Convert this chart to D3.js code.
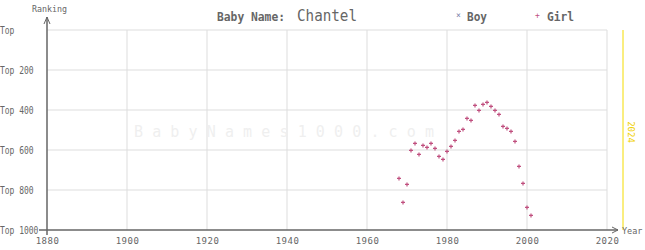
<!DOCTYPE html>
<html>
<head>
<meta charset="utf-8">
<script src="https://cdn.jsdelivr.net/npm/d3@7"></script>
<style>
  body { margin: 0; background: #fff; }
  text { font-family: "DejaVu Sans Mono", monospace; }
</style>
</head>
<body>
<div id="chart"></div>
<script>
const years = [1968,1969,1970,1971,1972,1973,1974,1975,1976,1977,1978,1979,1980,1981,1982,1983,1984,
  1985,1986,1987,1988,1989,1990,1991,1992,1993,1994,1995,1996,1997,1998,1999,2000,2001];
const girlRanks = [742,862,772,602,567,622,577,587,567,592,632,647,607,582,552,507,497,
  442,452,377,402,372,362,382,402,422,482,492,507,557,682,767,887,927];
const yearTicks = [1880,1900,1920,1940,1960,1980,2000,2020];
const rankTicks = [0,200,400,600,800,1000];
const rankLabels = ["Top","Top 200","Top 400","Top 600","Top 800","Top 1000"];

const width = 645, height = 250;
const grey = "#666";

let svg = d3.select("#chart").append("svg")
    .attr("width", width)
    .attr("height", height);

let x = d3.scaleLinear().domain([1880, 2020]).range([47, 607]);
let y = d3.scaleLinear().domain([0, 1000]).range([30, 230]);

// grid
svg.append("g").selectAll("line").data(yearTicks.slice(1)).join("line")
    .attr("x1", d => x(d)).attr("x2", d => x(d))
    .attr("y1", y(0)).attr("y2", y(1000))
    .attr("stroke", "#ddd");
svg.append("g").selectAll("line").data(rankTicks.slice(0, -1)).join("line")
    .attr("x1", x(1880)).attr("x2", x(2020))
    .attr("y1", d => y(d)).attr("y2", d => y(d))
    .attr("stroke", "#ddd");

// watermark
svg.append("text")
    .attr("x", 134).attr("y", 137)
    .attr("textLength", 300)
    .attr("lengthAdjust", "spacing")
    .style("font-size", "15px")
    .attr("fill", "#efefef")
    .text("BabyNames1000.com");

// 2024 marker
svg.append("line")
    .attr("x1", x(2024)).attr("x2", x(2024))
    .attr("y1", y(0)).attr("y2", y(1000))
    .attr("stroke", "#f5dc00");
svg.append("text")
    .attr("transform", `translate(${x(2024) + 5},${y(510)}) rotate(90)`)
    .attr("text-anchor", "middle")
    .style("font-size", "9px")
    .attr("fill", "#f0d000")
    .text("2024");

// axes
let xAxis = svg.append("g")
    .attr("transform", `translate(0,${y(1000)})`)
    .call(d3.axisBottom(x).tickValues(yearTicks).tickFormat(d3.format("d")).tickSize(0).tickPadding(8));
xAxis.select(".domain").remove();
xAxis.selectAll("text").style("font-size", "9px").attr("fill", grey)
    .style("font-family", "DejaVu Sans Mono").attr("letter-spacing", "0.5px");

svg.append("line")
    .attr("x1", 39).attr("x2", 618)
    .attr("y1", y(1000)).attr("y2", y(1000))
    .attr("stroke", grey).attr("stroke-width", 1.5);
svg.append("path")
    .attr("d", `M612,${y(1000) - 3} L618,${y(1000)} L612,${y(1000) + 3}`)
    .attr("fill", "none").attr("stroke", grey);
svg.append("text")
    .attr("x", 622).attr("y", y(1000) + 4)
    .style("font-size", "8.5px").attr("fill", grey)
    .text("Year");

let yAxis = svg.append("g")
    .call(d3.axisLeft(y).tickValues(rankTicks).tickFormat((d, i) => rankLabels[i]).tickSize(0).tickPadding(0));
yAxis.select(".domain").remove();
yAxis.selectAll("text")
    .attr("x", 0).attr("text-anchor", "start")
    .attr("textLength", function() { return this.textContent.length * 4.8; })
    .attr("lengthAdjust", "spacingAndGlyphs")
    .style("font-size", "10px").attr("fill", grey).style("font-family", "DejaVu Sans Mono");

svg.append("line")
    .attr("x1", x(1880)).attr("x2", x(1880))
    .attr("y1", 17).attr("y2", y(1000) + 5)
    .attr("stroke", grey).attr("stroke-width", 1.5);
svg.append("path")
    .attr("d", `M${x(1880) - 3},24 L${x(1880)},17 L${x(1880) + 3},24`)
    .attr("fill", "none").attr("stroke", grey);
svg.append("text")
    .attr("x", 32).attr("y", 12)
    .attr("textLength", 35).attr("lengthAdjust", "spacingAndGlyphs")
    .style("font-size", "9px").attr("fill", grey)
    .text("Ranking");

// title
svg.append("text")
    .attr("x", 217).attr("y", 21)
    .attr("textLength", 68).attr("lengthAdjust", "spacingAndGlyphs")
    .style("font-size", "12px").style("font-weight", "bold").attr("fill", grey)
    .text("Baby Name:");
svg.append("text")
    .attr("x", 297).attr("y", 21)
    .attr("textLength", 60).attr("lengthAdjust", "spacingAndGlyphs")
    .style("font-size", "15px").attr("fill", grey)
    .text("Chantel");

// legend
svg.append("text")
    .attr("x", 456).attr("y", 18)
    .style("font-size", "8px").attr("fill", "#7a80a8")
    .text("×");
svg.append("text")
    .attr("x", 467).attr("y", 21)
    .attr("textLength", 20).attr("lengthAdjust", "spacingAndGlyphs")
    .style("font-size", "12px").style("font-weight", "bold").attr("fill", grey)
    .text("Boy");
svg.append("text")
    .attr("x", 535).attr("y", 18)
    .style("font-size", "8px").attr("fill", "#c0507f")
    .text("+");
svg.append("text")
    .attr("x", 547).attr("y", 21)
    .attr("textLength", 27).attr("lengthAdjust", "spacingAndGlyphs")
    .style("font-size", "12px").style("font-weight", "bold").attr("fill", grey)
    .text("Girl");

// girl points
const girlData = years.map((yr, i) => [yr, girlRanks[i]]);
svg.append("g").selectAll("path").data(girlData).join("path")
    .attr("d", d => `M${x(d[0]) - 2},${y(d[1])} h4 M${x(d[0])},${y(d[1]) - 2} v4`)
    .attr("stroke", "#c0507f")
    .attr("stroke-width", 1.2);
</script>
</body>
</html>
